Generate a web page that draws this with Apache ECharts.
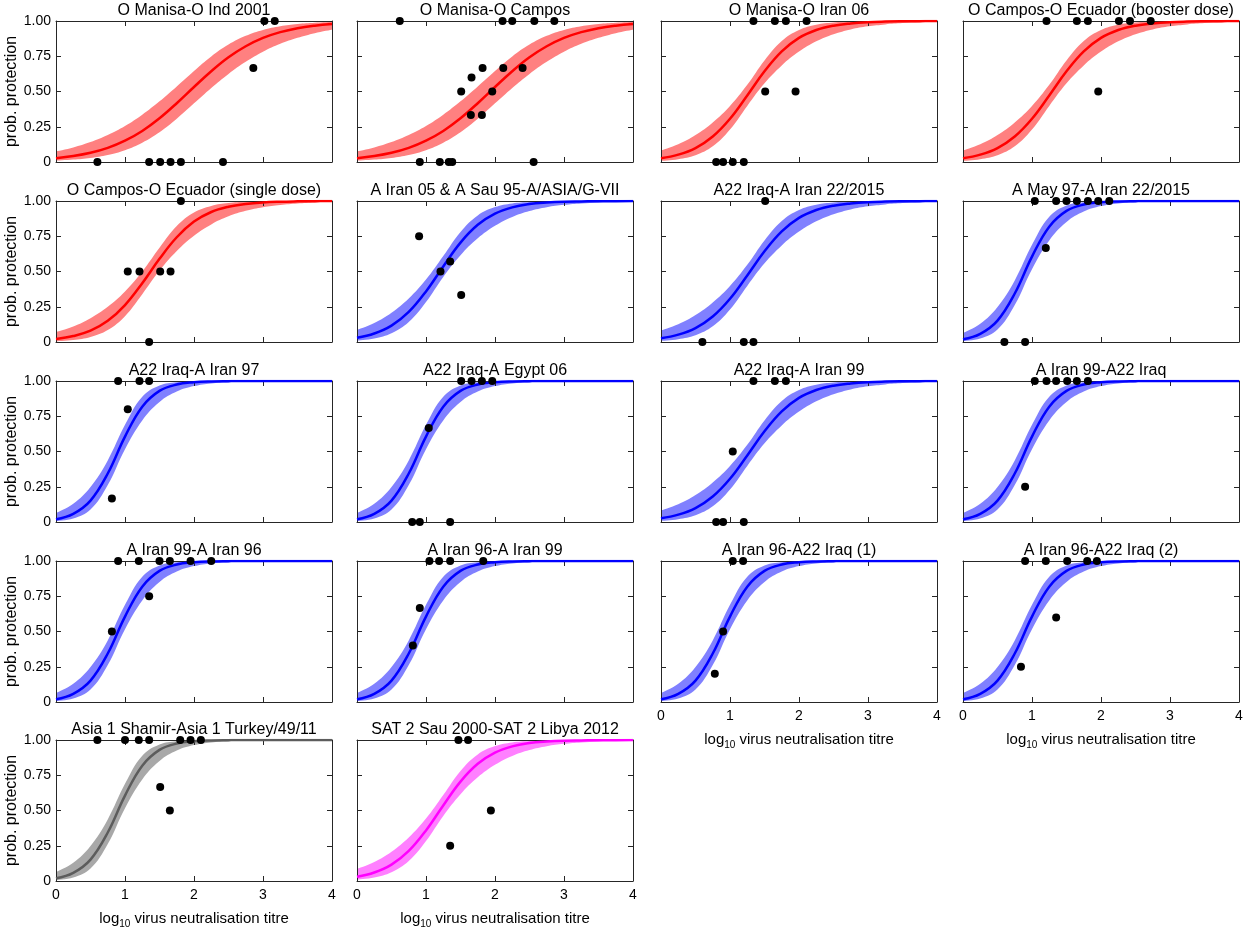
<!DOCTYPE html>
<html><head><meta charset="utf-8">
<script src="https://cdn.jsdelivr.net/npm/echarts@6/dist/echarts.min.js"></script>
<style>html,body{margin:0;padding:0;background:#fff}#c{width:1248px;height:933px}</style>
</head><body><div id="c"></div><script>
// ---------- DATA ----------
const panelTitles = [
  'O Manisa-O Ind 2001','O Manisa-O Campos','O Manisa-O Iran 06','O Campos-O Ecuador (booster dose)',
  'O Campos-O Ecuador (single dose)','A Iran 05 & A Sau 95-A/ASIA/G-VII','A22 Iraq-A Iran 22/2015','A May 97-A Iran 22/2015',
  'A22 Iraq-A Iran 97','A22 Iraq-A Egypt 06','A22 Iraq-A Iran 99','A Iran 99-A22 Iraq',
  'A Iran 99-A Iran 96','A Iran 96-A Iran 99','A Iran 96-A22 Iraq (1)','A Iran 96-A22 Iraq (2)',
  'Asia 1 Shamir-Asia 1 Turkey/49/11','SAT 2 Sau 2000-SAT 2 Libya 2012'];
const panelSerotype = ['O','O','O','O','O','A','A','A','A','A','A','A','A','A','A','A','Asia1','SAT2'];
const panelFit = ['A','A','B','B','C','D','B','E','E','E','B','E','E','E','E','E','E','D'];

const xTicks = [0,1,2,3,4];
const yTickLabels = ['0','0.25','0.50','0.75','1.00'];
const yName = 'prob. protection';

// titre positions at which the fitted curves were read
const titreSamples = [0,0.25,0.5,0.75,1,1.25,1.5,1.75,2,2.25,2.5,2.75,3,3.25,3.5,3.75,4];

const fitA_mean = [0.027,0.042,0.065,0.100,0.151,0.220,0.310,0.417,0.532,0.644,0.743,0.821,0.880,0.921,0.949,0.967,0.979];
const fitA_lo   = [0.009,0.017,0.029,0.050,0.084,0.137,0.211,0.307,0.416,0.525,0.625,0.711,0.782,0.838,0.881,0.914,0.938];
const fitA_hi   = [0.075,0.103,0.141,0.191,0.255,0.335,0.430,0.536,0.646,0.749,0.833,0.895,0.937,0.963,0.979,0.988,0.993];

const fitB_mean = [0.026,0.052,0.099,0.181,0.307,0.472,0.643,0.784,0.880,0.936,0.967,0.983,0.992,0.996,0.998,0.999,0.9995];
const fitB_lo   = [0.008,0.020,0.048,0.111,0.230,0.398,0.558,0.685,0.783,0.856,0.906,0.940,0.962,0.976,0.985,0.991,0.994];
const fitB_hi   = [0.082,0.126,0.191,0.280,0.397,0.547,0.720,0.858,0.936,0.973,0.989,0.996,0.998,0.999,1,1,1];

const fitC_mean = [0.021,0.042,0.080,0.150,0.262,0.417,0.590,0.743,0.854,0.922,0.959,0.979,0.990,0.995,0.9975,0.999,0.9994];
const fitC_lo   = [0.006,0.015,0.036,0.085,0.183,0.339,0.507,0.646,0.754,0.834,0.891,0.930,0.956,0.972,0.983,0.990,0.994];
const fitC_hi   = [0.071,0.110,0.169,0.250,0.359,0.500,0.668,0.822,0.918,0.965,0.985,0.994,0.9975,0.999,1,1,1];

const fitD_mean = [0.030,0.060,0.116,0.213,0.359,0.536,0.705,0.831,0.910,0.955,0.978,0.989,0.995,0.997,0.999,0.999,1];
const fitD_lo   = [0.010,0.025,0.062,0.141,0.283,0.461,0.615,0.735,0.824,0.887,0.929,0.956,0.973,0.983,0.990,0.994,0.996];
const fitD_hi   = [0.086,0.135,0.208,0.309,0.443,0.610,0.781,0.898,0.957,0.983,0.993,0.997,0.999,1,1,1,1];

const fitE_mean = [0.020,0.058,0.152,0.344,0.606,0.818,0.930,0.975,0.991,0.997,0.999,1,1,1,1,1,1];
const fitE_lo   = [0.006,0.024,0.088,0.262,0.516,0.720,0.851,0.925,0.964,0.983,0.992,0.996,0.998,0.999,0.999,1,1];
const fitE_hi   = [0.065,0.130,0.249,0.437,0.689,0.888,0.968,0.992,0.998,1,1,1,1,1,1,1,1];

// observed data: titre (x) and proportion protected (y)
const obsX = [
  [0.60,1.35,1.51,1.66,1.81,2.42,2.86,3.02,3.17],
  [0.91,1.20,1.33,1.38,2.56,1.65,1.81,1.51,1.96,1.66,1.82,2.12,2.40,0.62,2.11,2.25,2.57,2.86],
  [0.80,0.90,1.04,1.20,1.51,1.95,1.34,1.65,1.81,2.11],
  [1.96,1.21,1.65,1.81,2.26,2.42,2.72],
  [1.35,1.04,1.21,1.51,1.66,1.81],
  [1.51,1.21,1.35,0.90],
  [0.60,1.20,1.34,1.51],
  [0.60,0.90,1.20,1.04,1.35,1.50,1.65,1.81,1.96,2.12],
  [0.81,1.04,0.90,1.21,1.35],
  [0.80,0.91,1.35,1.04,1.51,1.66,1.81,1.96],
  [0.80,0.90,1.20,1.04,1.34,1.65,1.81],
  [0.90,1.04,1.21,1.35,1.51,1.65,1.81],
  [0.81,1.35,0.90,1.20,1.50,1.65,1.95,2.25],
  [0.81,0.91,1.05,1.19,1.35,1.83],
  [0.78,0.90,1.04,1.19],
  [0.84,1.35,0.90,1.20,1.51,1.80,1.94],
  [1.51,1.65,0.60,1.00,1.20,1.35,1.80,1.95,2.10],
  [1.35,1.94,1.47,1.61]];
const obsY = [
  [0,0,0,0,0,0,0.667,1,1],
  [0,0,0,0,0,0.333,0.333,0.5,0.5,0.6,0.667,0.667,0.667,1,1,1,1,1],
  [0,0,0,0,0.5,0.5,1,1,1,1],
  [0.5,1,1,1,1,1,1],
  [0,0.5,0.5,0.5,0.5,1],
  [0.333,0.5,0.571,0.75],
  [0,0,0,1],
  [0,0,0.667,1,1,1,1,1,1,1],
  [0.167,0.8,1,1,1],
  [0,0,0,0.667,1,1,1,1],
  [0,0,0,0.5,1,1,1],
  [0.25,1,1,1,1,1,1],
  [0.5,0.75,1,1,1,1,1,1],
  [0.4,0.667,1,1,1,1],
  [0.2,0.5,1,1],
  [0.25,0.6,1,1,1,1,1],
  [0.667,0.5,1,1,1,1,1,1,1],
  [0.25,0.5,1,1]];

// ---------- STYLE / LAYOUT ----------
const fits = {
  A:{mean:fitA_mean, lo:fitA_lo, hi:fitA_hi},
  B:{mean:fitB_mean, lo:fitB_lo, hi:fitB_hi},
  C:{mean:fitC_mean, lo:fitC_lo, hi:fitC_hi},
  D:{mean:fitD_mean, lo:fitD_lo, hi:fitD_hi},
  E:{mean:fitE_mean, lo:fitE_lo, hi:fitE_hi}};
const lineColour = {O:'#ff0000', A:'#0000ff', Asia1:'#5c5c5c', SAT2:'#ff00ff'};
const bandColour = {O:'#ff8080', A:'#8080ff', Asia1:'#a8a8a8', SAT2:'#ff80ff'};
const FONT = 'Liberation Sans, Arial, sans-serif';
const colLeft = [56, 357, 661, 963];
const rowTop = [21, 201, 381, 561, 740];
const plotW = 276, plotH = 141;
const axisCol = '#262626';

const grid=[], xAxis=[], yAxis=[], series=[];
panelTitles.forEach((t,i)=>{
  const r = Math.floor(i/4), c = i%4;
  grid.push({left:colLeft[c], top:rowTop[r], width:plotW, height:plotH});
  const showX = i >= 14;
  const line = {show:true, onZero:false, lineStyle:{color:axisCol, width:1}};
  const tick = {show:true, inside:true, length:5, lineStyle:{color:axisCol, width:1}};
  const xBase = {type:'value', gridIndex:i, min:xTicks[0], max:xTicks[xTicks.length-1], interval:1, z:4,
    axisLine:line, axisTick:tick, splitLine:{show:false}};
  xAxis.push(Object.assign({}, xBase, {position:'bottom',
    axisLabel:{show:showX, fontSize:14, color:'#000', fontFamily:FONT, margin:7},
    name: showX ? '{n|log}{s|10}{n| virus neutralisation titre}' : '',
    nameLocation:'middle', nameGap:28,
    nameTextStyle:{color:'#000', fontFamily:FONT, fontSize:15,
      rich:{n:{fontSize:15, fontFamily:FONT, color:'#000', lineHeight:20, verticalAlign:'middle'},
            s:{fontSize:10, fontFamily:FONT, color:'#000', lineHeight:20, verticalAlign:'bottom'}}}}));
  xAxis.push(Object.assign({}, xBase, {position:'top', axisLabel:{show:false},
    name:t, nameLocation:'middle', nameGap:2,
    nameTextStyle:{color:'#000', fontFamily:FONT, fontSize:16, verticalAlign:'bottom'}}));
  const yBase = {type:'value', gridIndex:i, min:0, max:1, interval:0.25, z:4,
    axisLine:line, axisTick:tick, splitLine:{show:false}};
  yAxis.push(Object.assign({}, yBase, {position:'left',
    axisLabel:{show:c===0, fontSize:14, color:'#000', fontFamily:FONT, margin:5,
      formatter:v=>yTickLabels[Math.round(v/0.25)]},
    name: c===0 ? yName : '', nameLocation:'middle', nameGap:35,
    nameTextStyle:{color:'#000', fontFamily:FONT, fontSize:16}}));
  yAxis.push(Object.assign({}, yBase, {position:'right', axisLabel:{show:false}}));

  const f = fits[panelFit[i]], s = panelSerotype[i];
  const xi = 2*i, yi = 2*i;
  const common = {type:'line', xAxisIndex:xi, yAxisIndex:yi, symbol:'none', smooth:0.4,
    silent:true, animation:false};
  // upper band edge filled down to 0, then lower band edge masked in white
  series.push(Object.assign({}, common, {z:1,
    data:titreSamples.map((x,k)=>[x, f.hi[k]]), lineStyle:{width:0, opacity:0},
    areaStyle:{color:bandColour[s], opacity:1, origin:'start'}}));
  series.push(Object.assign({}, common, {z:2,
    data:titreSamples.map((x,k)=>[x, f.lo[k]]), lineStyle:{width:0, opacity:0},
    areaStyle:{color:'#ffffff', opacity:1, origin:'start'}}));
  series.push(Object.assign({}, common, {z:6,
    data:titreSamples.map((x,k)=>[x, f.mean[k]]), lineStyle:{width:2.5, color:lineColour[s]}}));
  series.push({type:'scatter', xAxisIndex:xi, yAxisIndex:yi, symbol:'circle', symbolSize:8,
    itemStyle:{color:'#000', opacity:1}, clip:false, z:7, silent:true, animation:false,
    data:obsX[i].map((x,k)=>[x, obsY[i][k]])});
});

const chart = echarts.init(document.getElementById('c'));
chart.setOption({animation:false, backgroundColor:'#fff', grid, xAxis, yAxis, series});
</script></body></html>
